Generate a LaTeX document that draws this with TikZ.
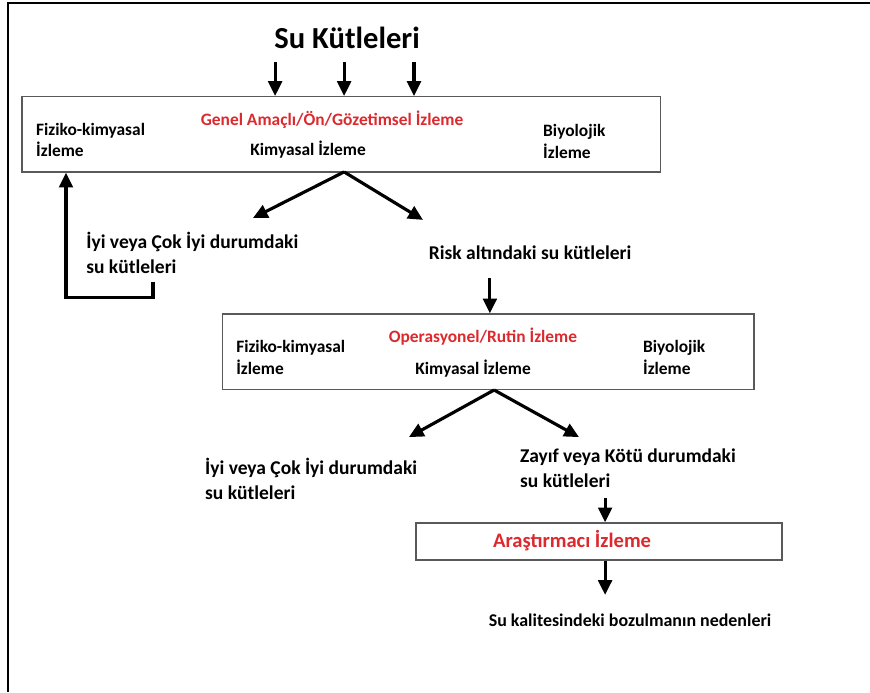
\documentclass[tikz,border=0pt]{standalone}
\usepackage{fontspec}
\setmainfont{Carlito}
\usetikzlibrary{arrows.meta}
\definecolor{izlemeRed}{rgb}{0.86,0.16,0.18}
\definecolor{kutuGray}{rgb}{0.35,0.35,0.35}

\begin{document}
\begin{tikzpicture}[
    kutu/.style={draw=kutuGray, line width=1.2pt, rectangle, inner sep=0pt},
    ok/.style={line width=3pt, -{Triangle[length=14pt, width=13pt]}},
    yazi/.style={font=\fontsize{18.5}{24}\selectfont\bfseries, align=left, inner sep=0pt},
    kyazi/.style={font=\fontsize{16.5}{20.5}\selectfont\bfseries, align=left, inner sep=0pt},
    kirmizi/.style={font=\fontsize{16.5}{18}\selectfont\bfseries, text=izlemeRed, inner sep=0pt}
]
    \useasboundingbox (0,0) rectangle (29,-23.067);

    % frame
    \draw[line width=2.8pt] (0.267,-23.067) -- (0.267,-0.1) -- (29,-0.1);

    % title
    \node[font=\fontsize{29}{30}\selectfont\bfseries] (sukutle) at (11.57,-1.27) {Su Kütleleri};

    % first box
    \node[kutu, minimum width=21.27cm, minimum height=2.53cm] (genelkutu) at (11.37,-4.47) {};
    \node[kirmizi] (genel) at (11.07,-4.0) {Genel Amaçlı/Ön/Gözetimsel İzleme};
    \node[kyazi, anchor=west] (fiziko1) at (1.2,-4.67) {Fiziko-kimyasal\\İzleme};
    \node[kyazi] (kimya1) at (10.27,-5.0) {Kimyasal İzleme};
    \node[kyazi, anchor=west] (biyo1) at (18.1,-4.72) {Biyolojik\\İzleme};

    \foreach \x in {9.17,11.47,13.8}
    \draw[ok] (\x,-2.07) -- (\x,-3.2);

    % branches of first box
    \coordinate (tepe1) at (11.47,-5.73);
    \coordinate (sol1) at (8.43,-7.27);
    \coordinate (sag1) at (14.1,-7.33);
    \draw[ok] (tepe1) -- (sol1);
    \draw[ok] (tepe1) -- (sag1);

    \node[yazi, anchor=west] (iyi1) at (2.87,-8.42) {İyi veya Çok İyi durumdaki\\su kütleleri};
    \node[yazi] (risk) at (17.67,-8.43) {Risk altındaki su kütleleri};

    % back to the first box
    \coordinate (geri1) at (5.1,-9.4);
    \coordinate (geri2) at (2.2,-9.93);
    \draw[ok] (geri1) |- (geri2) -- (geri2 |- genelkutu.south);

    % second box
    \node[kutu, minimum width=17.73cm, minimum height=2.53cm] (rutinkutu) at (16.27,-11.73) {};
    \node[kirmizi] (rutin) at (16.1,-11.23) {Operasyonel/Rutin İzleme};
    \node[kyazi, anchor=west] (fiziko2) at (7.87,-11.92) {Fiziko-kimyasal\\İzleme};
    \node[kyazi] (kimya2) at (15.77,-12.27) {Kimyasal İzleme};
    \node[kyazi, anchor=west] (biyo2) at (21.43,-11.92) {Biyolojik\\İzleme};

    \coordinate (riskalt) at (16.33,-9.27);
    \draw[ok] (riskalt) -- (riskalt |- rutinkutu.north);

    % branches of second box
    \coordinate (tepe2) at (16.47,-13.0);
    \coordinate (sol2) at (13.63,-14.57);
    \coordinate (sag2) at (19.3,-14.57);
    \draw[ok] (tepe2) -- (sol2);
    \draw[ok] (tepe2) -- (sag2);

    \node[yazi, anchor=west] (iyi2) at (6.83,-15.97) {İyi veya Çok İyi durumdaki\\su kütleleri};
    \node[yazi, anchor=west] (zayif) at (17.33,-15.6) {Zayıf veya Kötü durumdaki\\su kütleleri};

    % third box
    \node[kutu, minimum width=12.2cm, minimum height=1.24cm] (arkutu) at (19.97,-18.05) {};
    \node[kirmizi, font=\fontsize{19.5}{20}\selectfont\bfseries] (arastirma) at (19.07,-18.03) {Araştırmacı İzleme};

    \coordinate (zayifalt) at (20.17,-16.6);
    \draw[ok] (zayifalt) -- (zayifalt |- arkutu.north);

    \coordinate (neden) at (20.17,-19.83);
    \draw[ok] (neden |- arkutu.south) -- (neden);

    \node[kyazi, font=\fontsize{17}{20}\selectfont\bfseries] (bozulma) at (21.0,-20.67) {Su kalitesindeki bozulmanın nedenleri};
\end{tikzpicture}
\end{document}
